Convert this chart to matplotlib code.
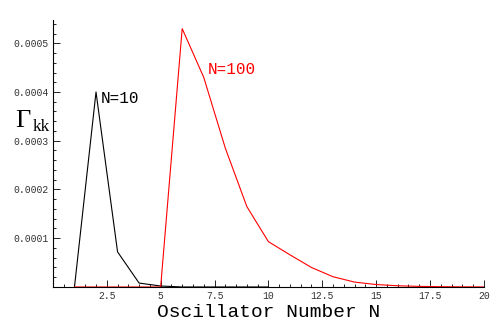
import matplotlib
matplotlib.use("Agg")
import matplotlib.pyplot as plt
from matplotlib.ticker import MultipleLocator, FuncFormatter

# Gamma_kk against oscillator number, two system sizes
n_small = [1, 2, 3, 4, 5, 6, 7, 8, 9, 10]
gamma_small = [0.0, 0.000400, 0.000072, 0.000008, 0.000002, 0.0, 0.0, 0.0, 0.0, 0.0]

n_big = [1, 2, 3, 4, 5, 6, 7, 8, 9, 10, 11, 12, 13, 14, 15, 16, 17, 18, 19, 20]
gamma_big = [0.0, 0.0, 0.0, 0.0, 0.0, 0.000530, 0.000430, 0.000285, 0.000165, 0.000093,
             0.000066, 0.000040, 0.000021, 0.000010, 0.000005, 0.0000025, 0.0000012,
             0.0000006, 0.0000003, 0.0000001]

mono = "Liberation Mono"

fig = plt.figure(figsize=(5.04, 3.31), dpi=100)
ax = fig.add_axes([0.105, 0.133, 0.855, 0.807])

ax.plot(n_small, gamma_small, color="black", lw=0.8)
ax.plot(n_big, gamma_big, color="red", lw=0.8)

ax.set_xlim(0, 20)
ax.set_ylim(0, 0.000548)

for s in ["top", "right"]:
    ax.spines[s].set_visible(False)
for s in ["left", "bottom"]:
    ax.spines[s].set_linewidth(0.8)

ax.xaxis.set_major_locator(MultipleLocator(2.5))
ax.xaxis.set_minor_locator(MultipleLocator(0.5))
ax.yaxis.set_major_locator(MultipleLocator(0.0001))
ax.yaxis.set_minor_locator(MultipleLocator(0.00002))
ax.xaxis.set_major_formatter(FuncFormatter(lambda v, p: "" if v == 0 else f"{v:g}"))
ax.yaxis.set_major_formatter(FuncFormatter(lambda v, p: "" if v == 0 else f"{v:.4f}"))
ax.tick_params(which="both", direction="in", width=0.6, labelsize=7, pad=3, labelcolor="#333333")
ax.tick_params(which="major", length=5)
ax.tick_params(which="minor", length=2.5)
for lab in ax.get_xticklabels() + ax.get_yticklabels():
    lab.set_fontfamily(mono)

ax.set_xlabel("Oscillator Number N", fontsize=14, fontfamily=mono, labelpad=2)

fig.text(0.030, 0.616, "Γ", fontsize=19, fontfamily="Liberation Serif", va="baseline")
fig.text(0.064, 0.604, "kk", fontsize=12.5, fontfamily="Liberation Serif", va="baseline")

ax.text(2.2, 0.000378, "N=10", fontsize=11.5, fontfamily=mono, color="black")
ax.text(7.18, 0.000437, "N=100", fontsize=11.5, fontfamily=mono, color="red")

fig.savefig("out.png", dpi=100)
